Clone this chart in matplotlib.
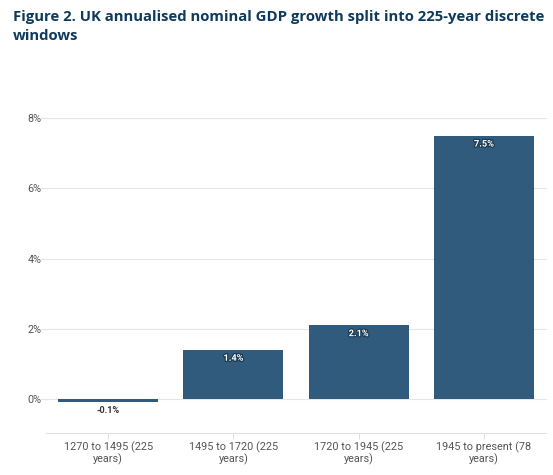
import matplotlib
matplotlib.use("Agg")
import matplotlib.pyplot as plt
import matplotlib.patheffects as pe

categories = ["1270 to 1495 (225\nyears)", "1495 to 1720 (225\nyears)",
              "1720 to 1945 (225\nyears)", "1945 to present (78\nyears)"]
values = [-0.1, 1.4, 2.1, 7.5]
yticks = [0, 2, 4, 6, 8]
ytick_labels = ["0%", "2%", "4%", "6%", "8%"]
title = "Figure 2. UK annualised nominal GDP growth split into 225-year discrete\nwindows"

plt.rcParams['font.family'] = ['Roboto', 'DejaVu Sans']

fig = plt.figure(figsize=(5.53, 4.75), dpi=100)
ax = fig.add_axes([0.0823, 0.0891, 0.9059, 0.666])

bar_color = "#315b7d"
x = list(range(len(categories)))
ax.bar(x, values, width=0.8, color=bar_color, zorder=3)
ax.set_xlim(-0.5, len(categories) - 0.5)
ax.set_ylim(-0.96, 8.05)

for y in yticks:
    ax.axhline(y, xmin=-0.01, xmax=1, color="#e6e6e6", lw=0.8, zorder=1, clip_on=False)

for xi, v in zip(x, values):
    if v >= 0:
        ax.text(xi, v - 0.24, f"{v:.1f}%", ha="center", va="center", fontsize=6.6,
                fontweight="bold", color="white", zorder=4,
                path_effects=[pe.withStroke(linewidth=1.8, foreground="#1c3a52")])
    else:
        ax.text(xi, v - 0.24, f"{v:.1f}%", ha="center", va="center", fontsize=6.6,
                fontweight="bold", color="#333333", zorder=4)

ax.set_yticks(yticks)
ax.set_yticklabels(ytick_labels)
ax.set_xticks(x)
ax.set_xticklabels(categories, linespacing=1.1)
ax.tick_params(axis="y", length=0, pad=3, labelsize=7.8, labelcolor="#555555")
ax.tick_params(axis="x", length=4, width=0.7, color="#e0e0e0", pad=2,
               labelsize=7.8, labelcolor="#555555")

for s in ["top", "right", "left"]:
    ax.spines[s].set_visible(False)
ax.spines["bottom"].set_color("#e0e0e0")
ax.spines["bottom"].set_linewidth(0.8)

fig.text(0.024, 0.978, title, ha="left", va="top", fontsize=10.75,
         fontweight="bold", color="#0e3a5c", linespacing=1.4,
         family=['Open Sans', 'DejaVu Sans'])

fig.savefig("out.png", dpi=100)
